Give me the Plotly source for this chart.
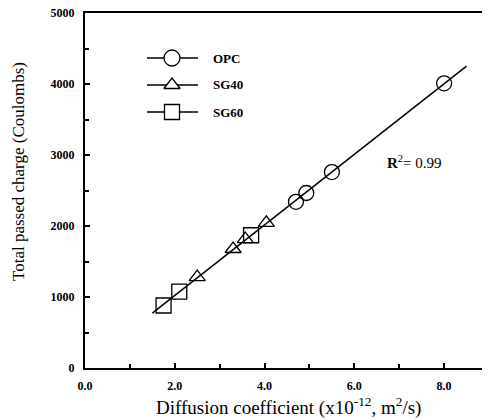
import numpy as np
import plotly.graph_objects as go

# Data
opc_x = [4.7, 4.93, 5.5, 8.0]
opc_y = [2340, 2465, 2760, 4010]
sg40_x = [2.5, 3.3, 3.57, 4.04]
sg40_y = [1280, 1676, 1815, 2045]
sg60_x = [1.75, 2.1, 3.7]
sg60_y = [880, 1075, 1870]
fit_x_range = [1.5, 8.5]
r2_text = "<b>R</b><sup>2</sup>= 0.99"
r2_pos = [7.33, 2900]

x_tick_vals = [0, 2, 4, 6, 8]
x_tick_text = ["0.0", "2.0", "4.0", "6.0", "8.0"]
y_tick_vals = [0, 1000, 2000, 3000, 4000, 5000]
y_tick_text = ["0", "1000", "2000", "3000", "4000", "5000"]

# Linear regression through all points
all_x = np.array(opc_x + sg40_x + sg60_x)
all_y = np.array(opc_y + sg40_y + sg60_y)
slope, intercept = np.polyfit(all_x, all_y, 1)
fx = np.array(fit_x_range)
fy = slope * fx + intercept

SERIF = "Liberation Serif, Times New Roman, serif"
BLACK = "#000000"

# page body has an 8px margin; figure is sized/placed to compensate
OFF = 8
W, H = 482, 412
ml, mr, mt, mb = 77, 1, 5, 52
pw, ph = W - ml - mr, H - mt - mb
XMAX, YMAX = 9.0, 5000


def px_to_paper_x(px):
    return (px - OFF - ml) / pw


def px_to_paper_y(py):
    return 1 - (py - OFF - mt) / ph


def px_to_data_x(px):
    return px_to_paper_x(px) * XMAX


def px_to_data_y(py):
    return px_to_paper_y(py) * YMAX


fig = go.Figure()
fig.add_trace(go.Scatter(x=fx, y=fy, mode="lines", line=dict(color=BLACK, width=1.5),
                         showlegend=False, hoverinfo="skip"))

mk_line = dict(color=BLACK, width=1.3)
fig.add_trace(go.Scatter(x=opc_x, y=opc_y, mode="markers", name="OPC",
                         marker=dict(symbol="circle-open", size=15, color=BLACK, line=mk_line)))
fig.add_trace(go.Scatter(x=sg40_x, y=sg40_y, mode="markers", name="SG40",
                         marker=dict(symbol="triangle-up-open", size=14, color=BLACK, line=mk_line)))
fig.add_trace(go.Scatter(x=sg60_x, y=sg60_y, mode="markers", name="SG60",
                         marker=dict(symbol="square-open", size=15, color=BLACK, line=mk_line)))

# Legend drawn manually (line + marker + label)
legend_items = [("OPC", "circle", 16), ("SG40", "triangle-up", 14), ("SG60", "square", 15)]
leg_y_px = [58, 85, 112]
for (name, sym, sz), ly in zip(legend_items, leg_y_px):
    yp = px_to_paper_y(ly)
    fig.add_shape(type="line", xref="paper", yref="paper",
                  x0=px_to_paper_x(147), x1=px_to_paper_x(198), y0=yp, y1=yp,
                  line=dict(color=BLACK, width=1.3), layer="below")
    fig.add_annotation(xref="paper", yref="paper", x=px_to_paper_x(211), y=yp,
                       text="<b>" + name + "</b>", showarrow=False, xanchor="left", yanchor="middle",
                       font=dict(family=SERIF, size=13, color=BLACK))
    fig.add_trace(go.Scatter(x=[px_to_data_x(172)], y=[px_to_data_y(ly)], mode="markers",
                             marker=dict(symbol=sym, size=sz, color="white", line=mk_line),
                             showlegend=False, hoverinfo="skip"))

fig.add_annotation(x=r2_pos[0], y=r2_pos[1], xref="x", yref="y", text=r2_text, showarrow=False,
                   font=dict(family=SERIF, size=15, color=BLACK), xanchor="center", yanchor="middle")

fig.add_annotation(xref="paper", yref="paper", x=px_to_paper_x(18), y=px_to_paper_y(172),
                   text="Total passed charge (Coulombs)", textangle=-90, showarrow=False,
                   font=dict(family=SERIF, size=17, color=BLACK), xanchor="center", yanchor="middle")
fig.add_annotation(xref="paper", yref="paper", x=px_to_paper_x(288), y=px_to_paper_y(406),
                   text="Diffusion coefficient (x10<sup>-12</sup>, m<sup>2</sup>/s)", showarrow=False,
                   font=dict(family=SERIF, size=19, color=BLACK), xanchor="center", yanchor="middle")

fig.update_layout(
    width=W, height=H,
    margin=dict(l=ml, r=mr, t=mt, b=mb, autoexpand=False),
    paper_bgcolor="white", plot_bgcolor="white",
    showlegend=False,
    font=dict(family=SERIF, color=BLACK),
    xaxis=dict(range=[0, XMAX], tickvals=x_tick_vals, ticktext=x_tick_text, automargin=False,
               ticks="inside", ticklen=5, tickwidth=1.5, tickcolor=BLACK,
               minor=dict(ticks="inside", ticklen=4, tickwidth=1.5, tickcolor=BLACK, dtick=1),
               showline=True, linecolor=BLACK, linewidth=2, mirror=True,
               showgrid=False, zeroline=False, ticklabeloverflow="allow",
               tickfont=dict(family=SERIF, size=12, color=BLACK, weight="bold"),
               ticklabelstandoff=6),
    yaxis=dict(range=[0, YMAX], tickvals=y_tick_vals, ticktext=y_tick_text, automargin=False,
               ticks="inside", ticklen=5, tickwidth=1.5, tickcolor=BLACK,
               minor=dict(ticks="inside", ticklen=4, tickwidth=1.5, tickcolor=BLACK, dtick=500),
               showline=True, linecolor=BLACK, linewidth=2, mirror=True,
               showgrid=False, zeroline=False, ticklabeloverflow="allow",
               tickfont=dict(family=SERIF, size=12, color=BLACK, weight="bold"),
               ticklabelstandoff=6),
)

fig.write_html("out.html")
